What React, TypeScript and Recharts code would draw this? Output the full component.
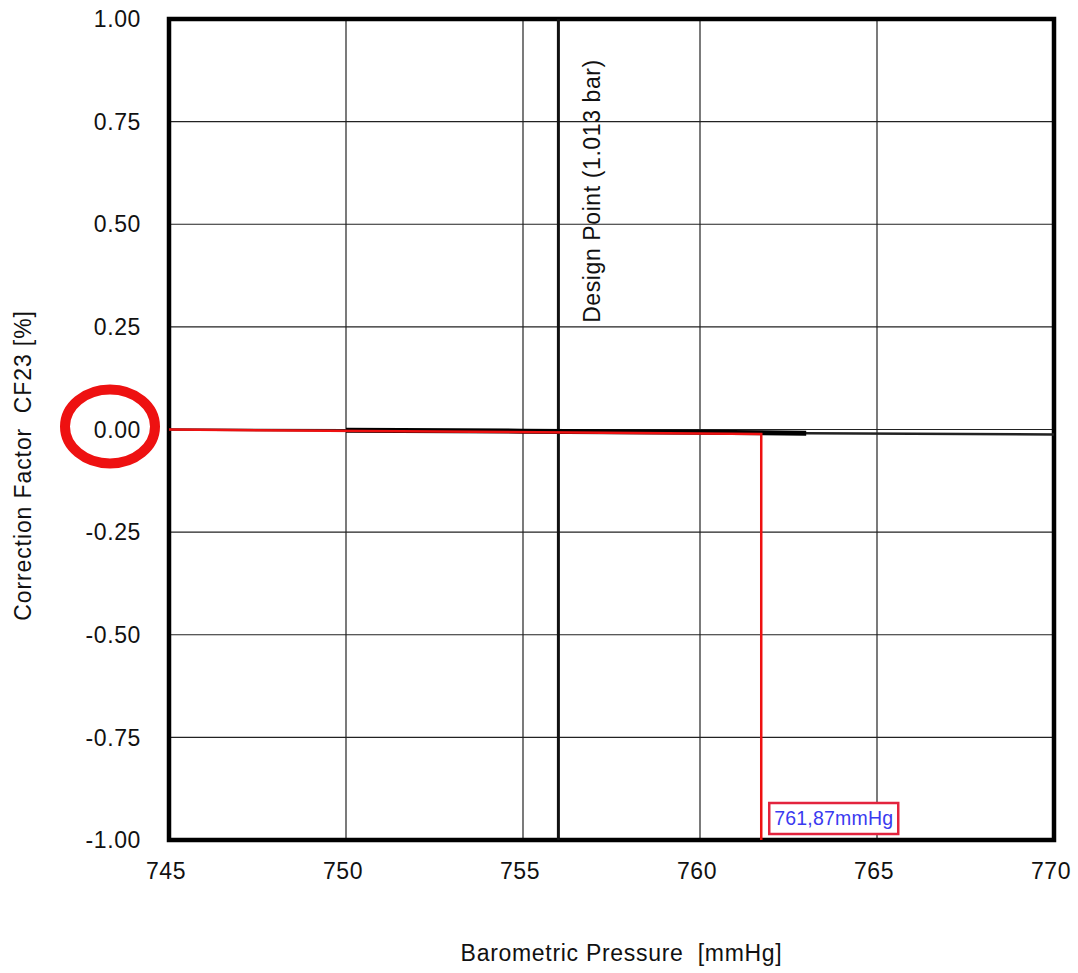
import React from 'react';
import {
  LineChart,
  Line,
  XAxis,
  YAxis,
  CartesianGrid,
  ReferenceLine,
  ReferenceArea,
  ReferenceDot,
  Label,
} from 'recharts';

// ---- data ----
const xTicks = [745, 750, 755, 760, 765, 770];
const yTicks = [-1, -0.75, -0.5, -0.25, 0, 0.25, 0.5, 0.75, 1];

const curvePressure = [745, 750, 755, 760, 763, 770];
const curveCF = [0.0, -0.002, -0.004, -0.007, -0.009, -0.012];

const boldPressure = [750, 755, 760, 763];
const boldCF = [-0.002, -0.004, -0.007, -0.009];

const designPointPressure = 756;
const designPointText = 'Design Point (1.013 bar)';

const readPressure = [745, 761.73, 761.73];
const readCF = [0.0, -0.011, -1.0];
const readLabel = '761,87mmHg';

const xLabel = 'Barometric Pressure  [mmHg]';
const yLabel = 'Correction Factor  CF23 [%]';

const curveData = curvePressure.map((p, i) => ({ p, cf: curveCF[i] }));
const boldData = boldPressure.map((p, i) => ({ p, cf: boldCF[i] }));
const readData = readPressure.map((p, i) => ({ p, cf: readCF[i] }));

const FONT = '"Liberation Sans", Arial, sans-serif';
const TXT = '#111';

const YTick = (props: any) => {
  const { x, y, payload } = props;
  const v = Number(payload.value);
  return (
    <g>
      <text
        x={x}
        y={y}
        dy="0.355em"
        textAnchor="end"
        fontFamily={FONT}
        fontSize={23}
        letterSpacing={0.6}
        fill={TXT}
      >
        {v.toFixed(2)}
      </text>
      {v === 0 && (
        <ellipse cx={x - 31} cy={y - 3} rx={45} ry={37} fill="none" stroke="#ee1111" strokeWidth={10} />
      )}
    </g>
  );
};

const XTick = (props: any) => {
  const { x, y, payload } = props;
  return (
    <text
      x={x - 3}
      y={y}
      dy="0.71em"
      textAnchor="middle"
      fontFamily={FONT}
      fontSize={23}
      letterSpacing={0.6}
      fill={TXT}
    >
      {payload.value}
    </text>
  );
};

const ReadBox = (props: any) => {
  const { cx, cy } = props;
  const bx = cx + 8;
  const by = cy - 37;
  return (
    <g>
      <rect x={bx} y={by} width={129} height={31} fill="#fff" stroke="#e3233d" strokeWidth={2.5} />
      <text
        x={bx + 64.5}
        y={by + 15.5}
        dy="0.355em"
        textAnchor="middle"
        fontFamily={FONT}
        fontSize={19.5}
        letterSpacing={0.2}
        fill="#3a3af0"
      >
        {readLabel}
      </text>
    </g>
  );
};

export default function App() {
  return (
    <div style={{ position: 'absolute', left: 0, top: 0, width: 1078, height: 973, background: '#fff' }}>
      <LineChart
        width={1078}
        height={973}
        margin={{ top: 19, right: 24, left: 0, bottom: 0 }}
      >
        <CartesianGrid stroke="#222" strokeWidth={1.2} />
        <XAxis
          type="number"
          dataKey="p"
          domain={[745, 770]}
          ticks={xTicks}
          allowDataOverflow
          height={133}
          tickSize={0}
          tickMargin={23}
          axisLine={false}
          tick={<XTick />}
        >
          <Label
            content={(lp: any) => {
              const vb = lp.viewBox;
              return (
                <text
                  x={vb.x + vb.width / 2 + 10}
                  y={vb.y + vb.height - 12}
                  textAnchor="middle"
                  fontFamily={FONT}
                  fontSize={23}
                  letterSpacing={0.7}
                  fill={TXT}
                  style={{ whiteSpace: 'pre' }}
                >
                  {xLabel}
                </text>
              );
            }}
          />
        </XAxis>
        <YAxis
          type="number"
          dataKey="cf"
          domain={[-1, 1]}
          ticks={yTicks}
          width={169}
          tickSize={0}
          tickMargin={28}
          axisLine={false}
          tick={<YTick />}
        >
          <Label
            content={(lp: any) => {
              const vb = lp.viewBox;
              const cx = vb.x + 23;
              const cy = vb.y + vb.height / 2 + 36;
              return (
                <text
                  x={cx}
                  y={cy}
                  transform={`rotate(-90, ${cx}, ${cy})`}
                  textAnchor="middle"
                  dominantBaseline="central"
                  fontFamily={FONT}
                  fontSize={23}
                  letterSpacing={0.9}
                  fill={TXT}
                  style={{ whiteSpace: 'pre' }}
                >
                  {yLabel}
                </text>
              );
            }}
          />
        </YAxis>

        <ReferenceLine
          x={designPointPressure}
          stroke="#111"
          strokeWidth={3}
          label={(lp: any) => {
            const vb = lp.viewBox;
            const cx = vb.x + 34;
            const cy = vb.y + 172;
            return (
              <text
                x={cx}
                y={cy}
                transform={`rotate(-90, ${cx}, ${cy})`}
                textAnchor="middle"
                dominantBaseline="central"
                fontFamily={FONT}
                fontSize={23}
                letterSpacing={0.6}
                fill={TXT}
              >
                {designPointText}
              </text>
            );
          }}
        />

        <Line
          data={curveData}
          dataKey="cf"
          stroke="#222"
          strokeWidth={2.5}
          dot={false}
          isAnimationActive={false}
        />
        <Line
          data={boldData}
          dataKey="cf"
          stroke="#000"
          strokeWidth={5}
          dot={false}
          isAnimationActive={false}
        />
        <Line
          data={readData}
          dataKey="cf"
          stroke="#ee1111"
          strokeWidth={2.5}
          dot={false}
          isAnimationActive={false}
        />

        <ReferenceArea
          x1={745}
          x2={770}
          y1={-1}
          y2={1}
          fill="none"
          fillOpacity={0}
          stroke="#000"
          strokeWidth={4.5}
        />
        <ReferenceDot
          x={readPressure[readPressure.length - 1]}
          y={readCF[readCF.length - 1]}
          r={0}
          ifOverflow="visible"
          shape={<ReadBox />}
        />
      </LineChart>
    </div>
  );
}
